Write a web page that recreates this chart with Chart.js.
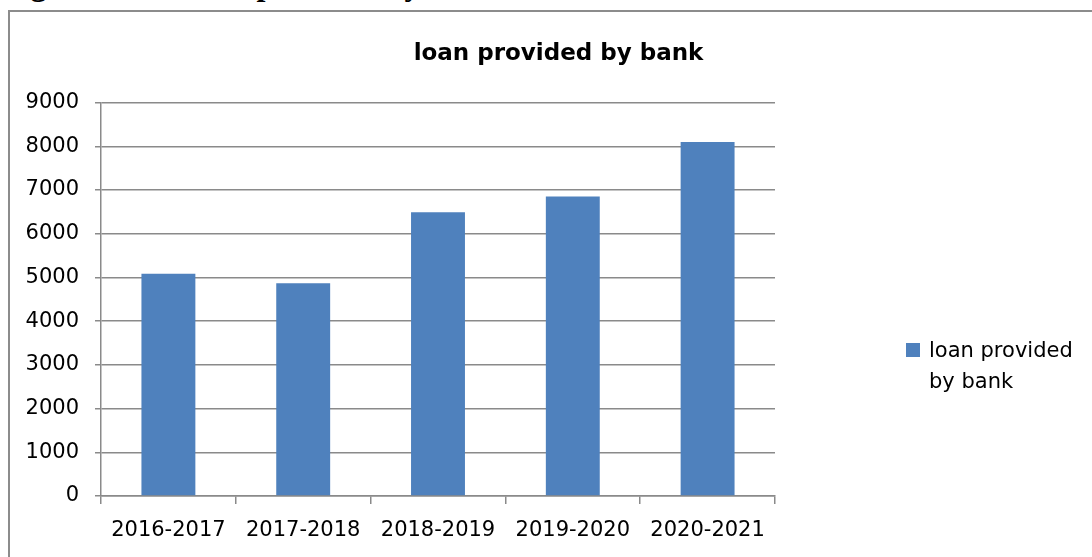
<!DOCTYPE html>
<html>
<head>
<meta charset="utf-8">
<script src="https://cdn.jsdelivr.net/npm/chart.js@4/dist/chart.umd.min.js"></script>
<style>
  html, body { margin: 0; padding: 0; background: #fff; overflow: hidden; width: 1092px; height: 557px; }
  #caption { position: absolute; left: 2px; top: -32px; font: bold 32px "Liberation Serif", "Times New Roman", serif; line-height: 32px; white-space: nowrap; color: #000; }
  #frame { position: absolute; left: 8px; top: 10px; width: 1100px; height: 600px; border: 2px solid #8c8c8c; box-sizing: border-box; }
  #c { position: absolute; left: 0; top: 0; }
</style>
</head>
<body>
<div id="caption">Figure No. 4: loan provided by bank</div>
<div id="frame"></div>
<canvas id="c" width="1092" height="557"></canvas>
<script>
const categories = ['2016-2017', '2017-2018', '2018-2019', '2019-2020', '2020-2021'];
const loanValues = [5085, 4870, 6490, 6850, 8100];
const seriesLabel = 'loan provided by bank';
const legendLines = ['loan provided', 'by bank'];
const chartTitle = 'loan provided by bank';
const yMin = 0, yMax = 9000, yStep = 1000;

const barColor = '#4f81bd';
const lineColor = '#8a8a8a';
const FONT = '"DejaVu Sans", sans-serif';

const legendPlugin = {
  id: 'sideLegend',
  afterDraw(chart) {
    const ctx = chart.ctx;
    ctx.save();
    ctx.fillStyle = barColor;
    ctx.fillRect(906, 343, 14, 14);
    ctx.fillStyle = '#000';
    ctx.font = '21px ' + FONT;
    ctx.textBaseline = 'alphabetic';
    ctx.textAlign = 'left';
    legendLines.forEach((t, i) => ctx.fillText(t, 929, 357 + i * 31));
    ctx.restore();
  }
};

new Chart(document.getElementById('c'), {
  type: 'bar',
  data: {
    labels: categories,
    datasets: [{
      label: seriesLabel,
      data: loanValues,
      backgroundColor: barColor,
      borderWidth: 0,
      barPercentage: 0.4,
      categoryPercentage: 1.0
    }]
  },
  options: {
    responsive: false,
    animation: false,
    devicePixelRatio: 1,
    layout: { padding: { left: 25, right: 0, top: 0, bottom: 0 } },
    plugins: {
      legend: { display: false },
      tooltip: { enabled: false },
      title: {
        display: true,
        text: chartTitle,
        color: '#000',
        font: { family: FONT, size: 23, weight: 'bold' },
        padding: { top: 40, bottom: 35 }
      }
    },
    scales: {
      x: {
        offset: true,
        grid: { display: true, drawOnChartArea: false, drawTicks: true, tickLength: 8, color: lineColor, lineWidth: 1.5, offset: true },
        border: { display: true, color: lineColor, width: 1.5 },
        ticks: { color: '#000', font: { family: FONT, size: 21 }, padding: 14, maxRotation: 0, autoSkip: false },
        afterFit(scale) { scale.height = 61; }
      },
      y: {
        min: yMin, max: yMax,
        grid: { color: lineColor, lineWidth: 1.5, drawTicks: true, tickLength: 6 },
        border: { display: true, color: lineColor, width: 1.5 },
        ticks: { stepSize: yStep, color: '#000', font: { family: FONT, size: 21 }, padding: 16, callback: (v) => String(v) },
        afterFit(scale) { scale.width = 76; }
      },
      yRight: {
        type: 'linear',
        position: 'right',
        display: true,
        grid: { display: false, drawTicks: false },
        border: { display: false },
        ticks: { display: false },
        afterFit(scale) { scale.width = 317; }
      }
    }
  },
  plugins: [legendPlugin]
});
</script>
</body>
</html>
